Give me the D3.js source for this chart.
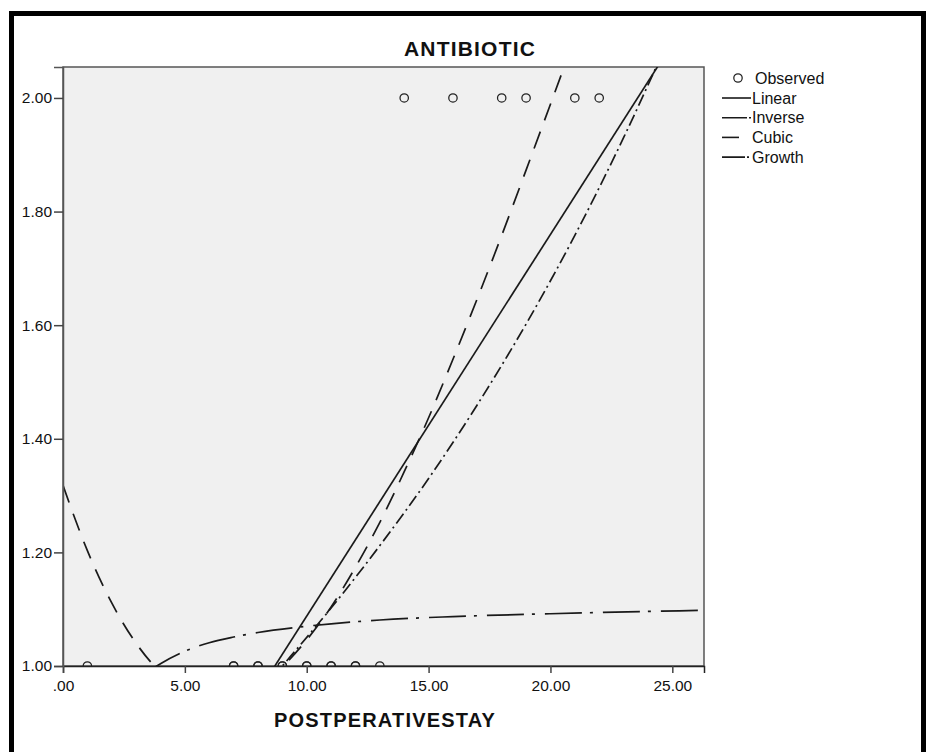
<!DOCTYPE html>
<html>
<head>
<meta charset="utf-8">
<script src="https://cdn.jsdelivr.net/npm/d3@7"></script>
<style>
body { margin: 0; background: #fff; }
text { font-family: "Liberation Sans", Arial, sans-serif; fill: #111; }
</style>
</head>
<body>
<div id="chart"></div>
<script>
// observed cases (stay, antibiotic); repeated values = overlapping cases
var obsStay = [1, 7, 7, 8, 8, 9, 9, 10, 10, 11, 11, 12, 12, 13, 14, 16, 18, 19, 21, 22];
var obsAntibiotic = [1, 1, 1, 1, 1, 1, 1, 1, 1, 1, 1, 1, 1, 1, 2, 2, 2, 2, 2, 2];

// fitted curves, values
var linearX = [0, 26.3];
var linearY = [0.416, 2.183];

var inverseX = [3.5, 3.85, 4, 5, 6, 7, 8, 10, 13, 16, 20, 26.3];
var inverseY = [0.988, 1.0, 1.004, 1.026, 1.041, 1.051, 1.059, 1.070, 1.081, 1.087, 1.092, 1.098];

var cubicX = [0, 1, 2, 3, 4, 5, 6, 7, 8, 9, 10, 11, 12, 13, 14, 15, 16, 17, 18, 19, 20, 21];
var cubicY = [1.318, 1.203, 1.111, 1.040, 0.989, 0.958, 0.944, 0.947, 0.966, 0.999, 1.046, 1.104,
              1.174, 1.253, 1.342, 1.437, 1.540, 1.647, 1.758, 1.873, 1.989, 2.106];

var growthX = [8, 9, 11, 13, 15, 17, 19, 21, 23, 25];
var growthY = [0.950, 1.0, 1.102, 1.212, 1.330, 1.460, 1.602, 1.758, 1.930, 2.118];

var xTicks = [0, 5, 10, 15, 20, 25];
var yTicks = [1.0, 1.2, 1.4, 1.6, 1.8, 2.0];

var legendNames = ["Linear", "Inverse", "Cubic", "Growth"];

var svgWidth = 928, svgHeight = 752;
var plotLeft = 63, plotRight = 704, plotTop = 67, plotBottom = 666;

var svg = d3.select("#chart")
    .append("svg")
    .attr("width", svgWidth)
    .attr("height", svgHeight);

// outer black frame (bottom edge runs off the page)
svg.append("rect")
    .attr("x", 11.5).attr("y", 13.5)
    .attr("width", 912).attr("height", 800)
    .attr("fill", "none")
    .attr("stroke", "#000")
    .attr("stroke-width", 5);

var x = d3.scaleLinear().domain([0, 26.3]).range([plotLeft, plotRight]);
var y = d3.scaleLinear().domain([1.0, 2.0545]).range([plotBottom, plotTop]);

svg.append("rect")
    .attr("x", plotLeft).attr("y", plotTop)
    .attr("width", plotRight - plotLeft).attr("height", plotBottom - plotTop)
    .attr("fill", "#f0f0f0")
    .attr("stroke", "#555")
    .attr("stroke-width", 1.5);

svg.append("clipPath").attr("id", "plotclip")
    .append("rect")
    .attr("x", plotLeft).attr("y", plotTop)
    .attr("width", plotRight - plotLeft).attr("height", plotBottom - plotTop);

var plot = svg.append("g").attr("clip-path", "url(#plotclip)");

// observed circles
plot.selectAll(".obs")
    .data(obsStay)
    .enter()
    .append("circle")
    .attr("class", "obs")
    .attr("cx", function (d) { return x(d); })
    .attr("cy", function (d, i) { return y(obsAntibiotic[i]); })
    .attr("r", 4.2)
    .attr("fill", "none")
    .attr("stroke", "#222")
    .attr("stroke-width", 1.25);

var series = [
    { name: "Linear", xs: linearX, ys: linearY, dash: null, legendDash: null },
    { name: "Inverse", xs: inverseX, ys: inverseY, dash: "37,8,3,10", legendDash: "25,2,2,20" },
    { name: "Cubic", xs: cubicX, ys: cubicY, dash: "18,12", legendDash: "17,20" },
    { name: "Growth", xs: growthX, ys: growthY, dash: "12,4,2,4", legendDash: "23,2,2,20" }
];

var line = d3.line()
    .x(function (d) { return x(d[0]); })
    .y(function (d) { return y(d[1]); })
    .curve(d3.curveMonotoneX);

series.forEach(function (s) {
    var pts = s.xs.map(function (v, i) { return [v, s.ys[i]]; });
    plot.append("path")
        .datum(pts)
        .attr("d", line)
        .attr("fill", "none")
        .attr("stroke", "#1a1a1a")
        .attr("stroke-width", 1.7)
        .attr("stroke-dasharray", s.dash);
});

// axes
var xAxis = svg.append("g")
    .attr("transform", "translate(0," + plotBottom + ")")
    .call(d3.axisBottom(x).tickValues(xTicks).tickSize(7).tickPadding(7)
        .tickFormat(function (d) { return d === 0 ? ".00" : d3.format(".2f")(d); }));
xAxis.select(".domain").attr("stroke", "#222").attr("stroke-width", 1.5);
xAxis.selectAll(".tick line").attr("stroke", "#444").attr("stroke-width", 1.5);
xAxis.selectAll("text").style("font-size", "15.5px").attr("fill", "#222");

var yAxis = svg.append("g")
    .attr("transform", "translate(" + plotLeft + ",0)")
    .call(d3.axisLeft(y).tickValues(yTicks).tickSize(9).tickPadding(2)
        .tickFormat(d3.format(".2f")));
yAxis.select(".domain").attr("stroke", "#555").attr("stroke-width", 1.5);
yAxis.selectAll(".tick line").attr("stroke", "#444").attr("stroke-width", 1.5);
yAxis.selectAll("text").style("font-size", "15.5px").attr("fill", "#222");

// titles
svg.append("text")
    .attr("x", 470).attr("y", 56)
    .attr("text-anchor", "middle")
    .style("font-size", "21px")
    .style("font-weight", "bold")
    .style("letter-spacing", "1.2px")
    .text("ANTIBIOTIC");

svg.append("text")
    .attr("x", 385).attr("y", 727)
    .attr("text-anchor", "middle")
    .style("font-size", "20px")
    .style("font-weight", "bold")
    .style("letter-spacing", "1.2px")
    .text("POSTPERATIVESTAY");

// legend
var legend = svg.append("g");
legend.append("circle")
    .attr("cx", 738).attr("cy", 78)
    .attr("r", 4.2)
    .attr("fill", "none")
    .attr("stroke", "#222")
    .attr("stroke-width", 1.25);
legend.append("text")
    .attr("x", 755).attr("y", 78).attr("dy", "0.35em")
    .style("font-size", "16px")
    .text("Observed");

var rows = legend.selectAll(".lrow")
    .data(series)
    .enter()
    .append("g")
    .attr("class", "lrow")
    .attr("transform", function (d, i) { return "translate(0," + (98 + i * 19.7) + ")"; });
rows.append("line")
    .attr("x1", 722).attr("x2", 751)
    .attr("stroke", "#1a1a1a")
    .attr("stroke-width", 1.6)
    .attr("stroke-dasharray", function (d) { return d.legendDash; });
rows.append("text")
    .attr("x", 752).attr("dy", "0.35em")
    .style("font-size", "16px")
    .text(function (d, i) { return legendNames[i]; });
</script>
</body>
</html>
